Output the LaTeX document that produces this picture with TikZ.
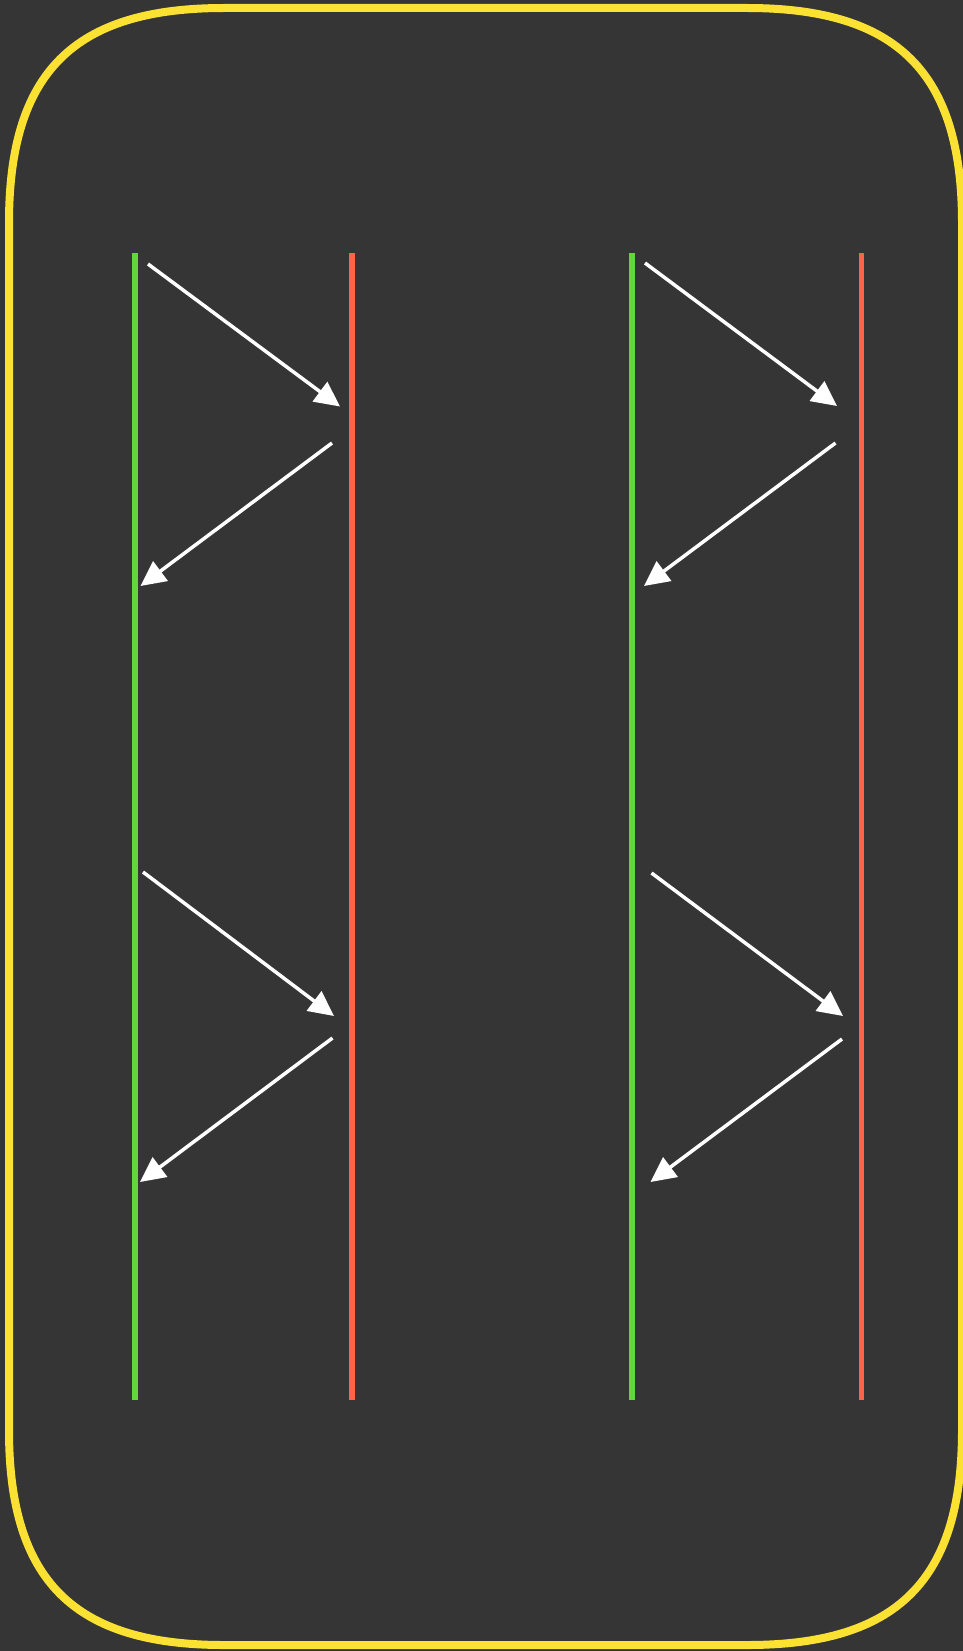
\documentclass[tikz,border=0pt]{standalone}
\usepackage{xcolor}
\usepackage{tikz}
\usetikzlibrary{arrows.meta,positioning}
\definecolor{bgdark}{HTML}{353535}
\definecolor{frameyellow}{HTML}{FBE232}
\definecolor{linegreen}{HTML}{62D63A}
\definecolor{linered}{HTML}{FF634A}

\begin{document}
\begin{tikzpicture}[
    x=1pt, y=-1pt,
    frame/.style={draw=frameyellow, line width=8pt},
    greenline/.style={draw=linegreen, line width=5.5pt},
    redline/.style={draw=linered, line width=5.5pt},
    msg/.style={draw=white, line width=3.5pt,
                -{Triangle[length=25pt, width=24pt]}},
]

\fill[bgdark] (0,0) rectangle (963,1651);
\useasboundingbox (0,0) rectangle (963,1651);

% outer frame with smooth corners
\draw[frame] (9,223) .. controls (9,72.5) and (73.5,8) .. (224,8)
    -- (747,8) .. controls (897.5,8) and (962,72.5) .. (962,223)
    -- (962,1430) .. controls (962,1580.5) and (897.5,1645) .. (747,1645)
    -- (224,1645) .. controls (73.5,1645) and (9,1580.5) .. (9,1430)
    -- cycle;

% lifelines
\coordinate (g1top) at (135, 253);
\coordinate (g1bot) at (135, 1400);
\coordinate (r1top) at (352, 253);
\coordinate (r1bot) at (352, 1400);
\coordinate (g2top) at (632, 253);
\coordinate (g2bot) at (632, 1400);
\coordinate (r2top) at (861.5, 253);
\coordinate (r2bot) at (861.5, 1400);

\draw[greenline] (g1top) -- (g1bot);
\draw[redline] (r1top) -- (r1bot);
\draw[greenline] (g2top) -- (g2bot);
\draw[redline] (r2top) -- (r2bot);

% left pair
\coordinate (a1s) at (148, 264);
\coordinate (a1e) at (340, 406.5);
\coordinate (a2s) at (332, 443);
\coordinate (a2e) at (140.5, 586);
\coordinate (a3s) at (143, 872);
\coordinate (a3e) at (334, 1016);
\coordinate (a4s) at (332.5, 1038);
\coordinate (a4e) at (140, 1182);

\draw[msg] (a1s) -- (a1e);
\draw[msg] (a2s) -- (a2e);
\draw[msg] (a3s) -- (a3e);
\draw[msg] (a4s) -- (a4e);

% right pair
\coordinate (b1s) at (645, 263);
\coordinate (b1e) at (837, 406);
\coordinate (b2s) at (835.5, 443);
\coordinate (b2e) at (644, 586);
\coordinate (b3s) at (651.5, 873);
\coordinate (b3e) at (843, 1016);
\coordinate (b4s) at (842, 1039);
\coordinate (b4e) at (650.5, 1182);

\draw[msg] (b1s) -- (b1e);
\draw[msg] (b2s) -- (b2e);
\draw[msg] (b3s) -- (b3e);
\draw[msg] (b4s) -- (b4e);

\end{tikzpicture}
\end{document}
